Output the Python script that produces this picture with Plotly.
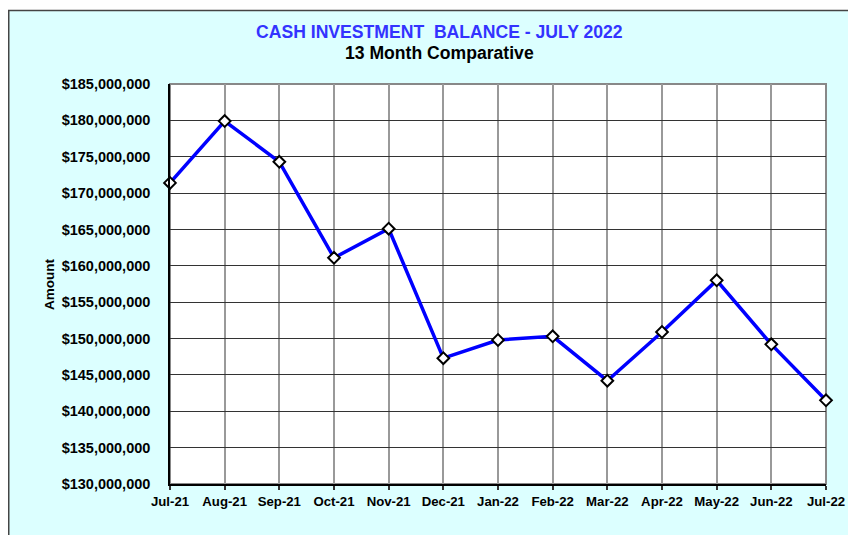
import plotly.graph_objects as go

months = ["Jul-21", "Aug-21", "Sep-21", "Oct-21", "Nov-21", "Dec-21", "Jan-22",
          "Feb-22", "Mar-22", "Apr-22", "May-22", "Jun-22", "Jul-22"]
balances = [171400000, 179900000, 174300000, 161100000, 165100000, 147300000, 149800000,
            150300000, 144200000, 150900000, 158000000, 149200000, 141500000]
y_ticks = list(range(130000000, 185000001, 5000000))

# page is offset by the 8px body margin; positions below are figure pixels
W, H = 856, 535
L, R, T, B = 162, 38, 76, 59
pw, ph = W - L - R, H - T - B

def px_x(p):
    return (p - L) / pw

def px_y(p):
    return (H - B - p) / ph

fig = go.Figure()
fig.add_trace(go.Scatter(
    x=months, y=balances, mode="lines+markers",
    line=dict(color="#0000FF", width=3.5),
    marker=dict(symbol="diamond", size=9, color="white",
                line=dict(color="black", width=2)),
    cliponaxis=False, showlegend=False,
))

font = "Liberation Sans, Arial, sans-serif"
fig.update_layout(
    width=W, height=H,
    margin=dict(l=L, r=R, t=T, b=B, pad=0),
    paper_bgcolor="white", plot_bgcolor="white",
    font=dict(family=font, color="black"),
    shapes=[
        dict(type="rect", xref="paper", yref="paper", layer="below",
             x0=px_x(0.75), x1=px_x(880), y0=px_y(560), y1=px_y(2.5),
             fillcolor="#DCFFFF", line=dict(color="#444444", width=1.5)),
        dict(type="rect", xref="paper", yref="paper", layer="below",
             x0=0, x1=1, y0=0, y1=1,
             fillcolor="white", line=dict(color="#888888", width=2)),
    ],
    annotations=[
        dict(text="<b>CASH INVESTMENT  BALANCE - JULY 2022</b>", xref="paper", yref="paper",
             x=px_x(431), y=px_y(24), xanchor="center", yanchor="middle", showarrow=False,
             font=dict(size=17.6, color="#3333FF", family=font)),
        dict(text="<b>13 Month Comparative</b>", xref="paper", yref="paper",
             x=px_x(431), y=px_y(45), xanchor="center", yanchor="middle", showarrow=False,
             font=dict(size=17.6, color="black", family=font)),
        dict(text="<b>Amount</b>", xref="paper", yref="paper",
             x=px_x(41), y=px_y(277), xanchor="center", yanchor="middle",
             showarrow=False, textangle=-90,
             font=dict(size=13.5, color="black", family=font)),
    ],
)

fig.update_xaxes(
    type="category", range=[0, len(months) - 1],
    showgrid=True, gridcolor="#999999", gridwidth=1.5,
    showline=True, linecolor="black", linewidth=1.5,
    ticks="outside", ticklen=4, tickcolor="#333333", tickwidth=1.5,
    tickfont=dict(size=13.2, family=font, color="black"),
    tickprefix="<b>", ticksuffix="</b>",
    zeroline=False,
)
fig.update_yaxes(
    range=[130000000, 185000000], tickvals=y_ticks,
    ticktext=["<b>${:,}</b>".format(v) for v in y_ticks],
    showgrid=True, gridcolor="#333333", gridwidth=1,
    showline=True, linecolor="black", linewidth=1.5,
    ticks="", ticklen=0, ticklabelstandoff=15,
    tickfont=dict(size=14.5, family=font, color="black"),
    zeroline=False,
)

fig.write_html("out.html")
